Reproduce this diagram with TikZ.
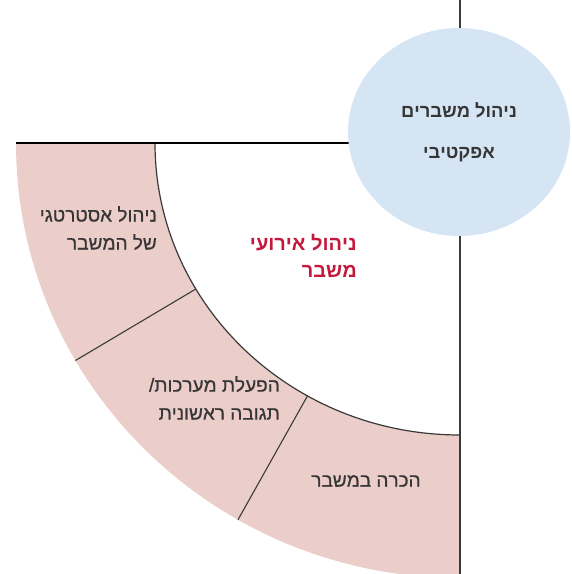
\documentclass[tikz,border=0pt]{standalone}
\usepackage{fontspec}
\setmainfont{Liberation Sans}
\TeXXeTstate=1
\usetikzlibrary{shapes.geometric, calc}
\definecolor{ringpink}{HTML}{EBCDC9}
\definecolor{goalblue}{HTML}{D5E5F4}
\definecolor{textgray}{HTML}{363636}
\definecolor{eventred}{HTML}{C4183C}
\definecolor{linegray}{HTML}{3A3A3A}

\begin{document}
\begin{tikzpicture}[x=1pt, y=1pt,
  ringtext/.style={text=textgray, font=\addfontfeature{FakeBold=0.6}\fontsize{19}{28}\selectfont, align=right, inner sep=0pt},
  divider/.style={draw=linegray, line width=1.1pt}]
\useasboundingbox (0,0) rectangle (572,574);
\coordinate (C) at (460,431);
% ring sectors
\fill[ringpink] ($(C)+(180:444 and 435)$) arc[start angle=180, end angle=270, x radius=444, y radius=435]
  -- ($(C)+(270:305 and 292)$) arc[start angle=270, end angle=180, x radius=305, y radius=292] -- cycle;
\draw[linegray, line width=1.2pt] ($(C)+(180:305 and 292)$) arc[start angle=180, end angle=270, x radius=305, y radius=292];
\draw[divider] ($(C)+(210:305 and 292)$) -- ($(C)+(210:444 and 435)$);
\draw[divider] ($(C)+(240:305 and 292)$) -- ($(C)+(240:444 and 435)$);
% axes
\draw[black, line width=2pt] ($(C)+(180:444 and 435)$) -- (C);
\draw[linegray, line width=1.3pt] (460,574) -- (460,0);
% goal
\node[ellipse, fill=goalblue, minimum width=222pt, minimum height=208pt, inner sep=0pt,
  text=textgray, font=\bfseries\fontsize{18.3}{41}\selectfont, align=center] (goal) at (459,442)
  {\beginR ניהול משברים\endR\\\beginR אפקטיבי\endR};
% labels
\node[ringtext, anchor=east] (strat) at (157,346)
  {\beginR ניהול אסטרטגי\endR\\\beginR של המשבר\endR};
\node[ringtext, anchor=east] (activ) at (280,176)
  {\beginR הפעלת מערכות/\endR\\\beginR תגובה ראשונית\endR};
\node[ringtext] (recog) at (366,93) {\beginR הכרה במשבר\endR};
\node[ringtext, text=eventred, font=\bfseries\fontsize{20}{27}\selectfont, anchor=east] (events) at (357,318)
  {\beginR ניהול אירועי\endR\\\beginR משבר\endR};
\end{tikzpicture}
\end{document}
